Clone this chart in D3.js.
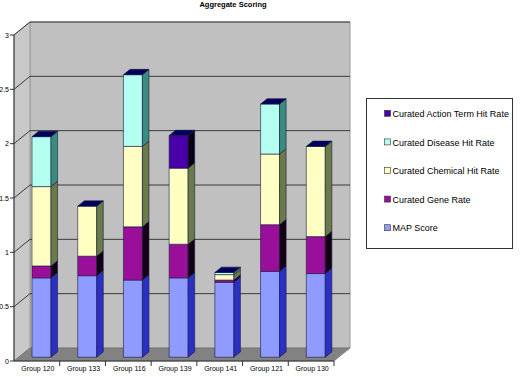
<!DOCTYPE html>
<html>
<head>
	<title>Aggregate Scoring</title>
	<script src="https://d3js.org/d3.v7.min.js"></script>
	<style type="text/css">
		body {
			margin: 0;
			background: #fff;
		}
		text {
			font-family: "Liberation Sans", Arial, sans-serif;
			fill: #000;
		}
		.title {
			font-weight: bold;
			font-size: 7.5px;
		}
		.tick-label {
			font-size: 7px;
		}
		.legend text {
			font-size: 9px;
		}
	</style>
</head>
<body>
<div id="visualization"></div>
<script type="text/javascript">
var svg_width = 520;
var svg_height = 377;

// data
var groups = ["Group 120", "Group 133", "Group 116", "Group 139", "Group 141", "Group 121", "Group 130"];
var series = ["MAP Score", "Curated Gene Rate", "Curated Chemical Hit Rate", "Curated Disease Hit Rate", "Curated Action Term Hit Rate"];
var map_score     = [0.73, 0.75, 0.71, 0.73, 0.69, 0.79, 0.77];
var gene_rate     = [0.11, 0.18, 0.49, 0.31, 0.02, 0.43, 0.34];
var chemical_rate = [0.73, 0.46, 0.74, 0.70, 0.05, 0.65, 0.83];
var disease_rate  = [0.46, 0,    0.66, 0,    0.02, 0.46, 0];
var action_rate   = [0,    0,    0,    0.30, 0,    0,    0];
var y_ticks = [0, 0.5, 1, 1.5, 2, 2.5, 3];

var values = [map_score, gene_rate, chemical_rate, disease_rate, action_rate];
var front_colors = ["#8f9bff", "#990f99", "#ffffc4", "#b4fff0", "#4a00a8"];
var side_colors  = ["#2b2fc4", "#140014", "#6a7a48", "#3a8c7c", "#0a0014"];
var top_color = "#00005c";

// 3d frame
var depth_x = 16, depth_y = -13;
var x = d3.scaleBand().domain(groups).range([14, 334]);
var y = d3.scaleLinear().domain([0, 3]).range([361, 35]);

function pt(px, v, d) {
	return [px + d * depth_x, y(v) + d * depth_y];
}
function poly(pts) {
	return pts.map(function(p) { return p.join(","); }).join(" ");
}

var svg = d3.select("#visualization")
	.append("svg")
	.attr("width", svg_width)
	.attr("height", svg_height);

svg.append("text")
	.attr("class", "title")
	.attr("x", 233)
	.attr("y", 7)
	.attr("text-anchor", "middle")
	.text("Aggregate Scoring");

var x0 = x.range()[0], x1 = x.range()[1];

// back wall
svg.append("polygon")
	.attr("points", poly([pt(x0, 0, 1), pt(x1, 0, 1), pt(x1, 3, 1), pt(x0, 3, 1)]))
	.attr("fill", "#c0c0c0")
	.attr("stroke", "#9a9a9a")
	.attr("stroke-width", 1);
// left wall
svg.append("polygon")
	.attr("points", poly([pt(x0, 0, 0), pt(x0, 0, 1), pt(x0, 3, 1), pt(x0, 3, 0)]))
	.attr("fill", "#c8c8c8")
	.attr("stroke", "#9a9a9a")
	.attr("stroke-width", 1);
// floor
svg.append("polygon")
	.attr("points", poly([pt(x0, 0, 0), pt(x1, 0, 0), pt(x1, 0, 1), pt(x0, 0, 1)]))
	.attr("fill", "#828282")
	.attr("stroke", "#6a6a6a")
	.attr("stroke-width", 0.6);

// gridlines
y_ticks.slice(1).forEach(function(v) {
	svg.append("polyline")
		.attr("points", poly([pt(x0, v, 0), pt(x0, v, 1), pt(x1, v, 1)]))
		.attr("fill", "none")
		.attr("stroke", "#2a2a2a")
		.attr("stroke-width", 0.9);
});

// value axis
svg.append("line")
	.attr("x1", x0).attr("x2", x0)
	.attr("y1", y(3)).attr("y2", y(0))
	.attr("stroke", "#333").attr("stroke-width", 1);
y_ticks.forEach(function(v) {
	svg.append("line")
		.attr("x1", x0 - 4).attr("x2", x0)
		.attr("y1", y(v)).attr("y2", y(v))
		.attr("stroke", "#333").attr("stroke-width", 1);
	svg.append("text")
		.attr("class", "tick-label")
		.attr("x", x0 - 5)
		.attr("y", y(v) + 2.5)
		.attr("text-anchor", "end")
		.text(v);
});

// category axis
svg.append("line")
	.attr("x1", x0).attr("x2", x1)
	.attr("y1", y(0)).attr("y2", y(0))
	.attr("stroke", "#333").attr("stroke-width", 1);
groups.forEach(function(g, i) {
	svg.append("line")
		.attr("x1", x(g) + x.bandwidth()).attr("x2", x(g) + x.bandwidth())
		.attr("y1", y(0)).attr("y2", y(0) + 5)
		.attr("stroke", "#333").attr("stroke-width", 1);
	svg.append("text")
		.attr("class", "tick-label")
		.attr("x", x(g) + x.bandwidth() / 2 + 1)
		.attr("y", y(0) + 10)
		.attr("text-anchor", "middle")
		.text(g);
});

// bars
var bar_w = x.bandwidth() * 0.415;
var d_front = 0.29, d_back = 0.70;

groups.forEach(function(g, i) {
	var left = x(g) + (x.bandwidth() - bar_w) / 2;
	var right = left + bar_w;
	var base = 0;
	var bar = svg.append("g").attr("class", "bar");
	values.forEach(function(vals, s) {
		var v = vals[i];
		if (v <= 0) return;
		var top = base + v;
		// front face
		bar.append("polygon")
			.attr("points", poly([pt(left, base, d_front), pt(right, base, d_front), pt(right, top, d_front), pt(left, top, d_front)]))
			.attr("fill", front_colors[s])
			.attr("stroke", "#1a1a40")
			.attr("stroke-width", 0.6);
		// side face
		bar.append("polygon")
			.attr("points", poly([pt(right, base, d_front), pt(right, base, d_back), pt(right, top, d_back), pt(right, top, d_front)]))
			.attr("fill", side_colors[s])
			.attr("stroke", "#1a1a40")
			.attr("stroke-width", 0.6);
		base = top;
	});
	// top face
	bar.append("polygon")
		.attr("points", poly([pt(left, base, d_front), pt(right, base, d_front), pt(right, base, d_back), pt(left, base, d_back)]))
		.attr("fill", top_color)
		.attr("stroke", "#1a1a40")
		.attr("stroke-width", 0.6);
});

// legend
var legend = svg.append("g").attr("class", "legend");
legend.append("rect")
	.attr("x", 366.5).attr("y", 98.5)
	.attr("width", 146).attr("height", 150)
	.attr("fill", "#fff")
	.attr("stroke", "#333")
	.attr("stroke-width", 1);
var legend_y = d3.scaleBand().domain(series.slice().reverse()).range([98.5, 241.5]);
series.slice().reverse().forEach(function(name) {
	var s = series.indexOf(name);
	var cy = legend_y(name) + legend_y.bandwidth() / 2 + 1;
	legend.append("rect")
		.attr("x", 384.5).attr("y", cy - 3.5)
		.attr("width", 6).attr("height", 6)
		.attr("fill", front_colors[s])
		.attr("stroke", "#333")
		.attr("stroke-width", 0.6);
	legend.append("text")
		.attr("x", 392.5)
		.attr("y", cy + 3.2)
		.text(name);
});
</script>
</body>
</html>
